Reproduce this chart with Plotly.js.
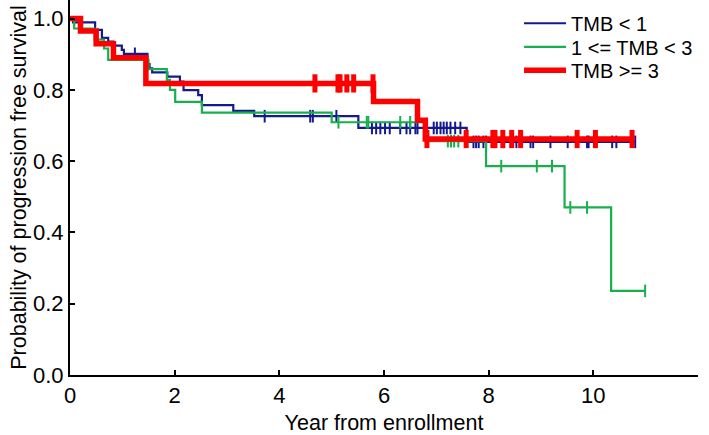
<!DOCTYPE html>
<html>
<head>
<meta charset="utf-8">
<script src="https://cdn.plot.ly/plotly-3.0.1.min.js"></script>
<style>html,body{margin:0;padding:0;background:#fff}#chart{width:709px;height:435px}</style>
</head>
<body>
<div id="chart"></div>
<script>
// ---- data ----
const seriesNames = ["TMB < 1", "1 <= TMB < 3", "TMB >= 3"];

const blueTimes = [0, 0.06, 0.48, 0.61, 0.73, 0.83, 0.99, 1.03, 1.48, 1.52, 1.57, 1.86, 2.10, 2.17, 2.45, 2.52, 3.12, 3.52, 5.51, 7.58, 10.80];
const blueSurv  = [1.0, 0.989, 0.968, 0.946, 0.935, 0.924, 0.912, 0.901, 0.872, 0.860, 0.849, 0.837, 0.823, 0.799, 0.785, 0.757, 0.741, 0.726, 0.693, 0.654, 0.654];
const blueCensor = [1.24, 3.72, 4.59, 4.64, 5.09, 5.77, 5.85, 5.93, 6.02, 6.11, 6.31, 6.43, 6.50, 6.60, 6.64, 6.95, 7.01, 7.08, 7.14, 7.20, 7.27, 7.36, 7.46, 7.71, 7.76, 7.81, 7.90, 7.95, 8.29, 8.53, 8.80, 8.85, 9.18, 9.51, 9.88, 9.91, 10.36, 10.44, 10.80];

const greenTimes = [0, 0.08, 0.47, 0.65, 0.73, 1.50, 1.85, 1.91, 2.01, 2.52, 5.00, 6.80, 7.95, 9.45, 10.34, 10.99];
const greenSurv  = [1.0, 0.972, 0.941, 0.916, 0.884, 0.858, 0.828, 0.800, 0.766, 0.736, 0.709, 0.656, 0.586, 0.470, 0.236, 0.236];
const greenCensor = [5.13, 5.67, 5.70, 6.31, 6.50, 7.22, 7.28, 7.34, 7.42, 8.24, 8.92, 9.21, 9.56, 9.88, 10.99];

const redTimes = [0, 0.20, 0.50, 0.83, 1.45, 5.80, 6.64, 6.79, 10.74];
const redSurv  = [1.0, 0.965, 0.929, 0.890, 0.818, 0.767, 0.715, 0.662, 0.662];
const redCensor = [4.68, 5.12, 5.16, 5.29, 5.42, 5.79, 6.82, 7.57, 8.08, 8.12, 8.27, 8.44, 8.61, 9.69, 10.04, 10.74];

const xTickVals = [0, 2, 4, 6, 8, 10, 12];
const yTickVals = [0, 0.2, 0.4, 0.6, 0.8, 1.0];

// ---- helpers ----
function survAt(times, surv, t) {
  let v = surv[0];
  for (let i = 0; i < times.length; i++) { if (times[i] <= t) v = surv[i]; }
  return v;
}
const FONT = "Arial, 'Liberation Sans', sans-serif";
const colors = ["#141a8c", "#18b04c", "#ff0000"];
const widths = [2.2, 2.2, 5.5];
const legendIds = ["legend", "legend2", "legend3"];
const groups = [
  [blueTimes, blueSurv, blueCensor],
  [greenTimes, greenSurv, greenCensor],
  [redTimes, redSurv, redCensor]
];

const lineTraces = groups.map((g, i) => ({
  x: g[0], y: g[1], type: "scatter", mode: "lines",
  line: {shape: "hv", color: colors[i], width: widths[i]},
  name: seriesNames[i], legend: legendIds[i], showlegend: true, hoverinfo: "skip"
}));
const censorTraces = groups.map((g, i) => ({
  x: g[2], y: g[2].map(t => survAt(g[0], g[1], t)), type: "scatter", mode: "markers",
  marker: {symbol: "line-ns-open", size: i === 2 ? 13 : 9, color: colors[i],
           line: {color: colors[i], width: i === 2 ? 5 : 2}},
  showlegend: false, hoverinfo: "skip"
}));
const data = [lineTraces[0], censorTraces[0], lineTraces[1], censorTraces[1], lineTraces[2], censorTraces[2]];

const legFont = {family: FONT, size: 20, color: "#000"};
function leg(y) {
  return {x: 0.715, y: y, xanchor: "left", yanchor: "top", bgcolor: "rgba(0,0,0,0)",
          font: legFont, itemwidth: 42, borderwidth: 0};
}

const layout = {
  width: 709, height: 435,
  margin: {l: 70, r: 11, t: 0, b: 60, pad: 0},
  paper_bgcolor: "#fff", plot_bgcolor: "#fff",
  font: {family: FONT, size: 22, color: "#000"},
  showlegend: true,
  legend: leg(0.99),
  legend2: leg(0.927),
  legend3: leg(0.865),
  xaxis: {
    range: [0, 12], tickvals: xTickVals, ticktext: xTickVals.map(String),
    showline: true, linecolor: "#000", linewidth: 2, ticks: "inside", ticklen: 5, tickwidth: 2, tickcolor: "#000",
    showgrid: false, zeroline: false, tickfont: {family: FONT, size: 22, color: "#000"},
    title: {text: "Year from enrollment", font: {family: FONT, size: 21.5, color: "#000"}, standoff: 20}
  },
  yaxis: {
    range: [0, 1.052], tickvals: yTickVals, ticktext: yTickVals.map(v => v.toFixed(1)),
    showline: true, linecolor: "#000", linewidth: 2, ticks: "inside", ticklen: 5, tickwidth: 2, tickcolor: "#000",
    showgrid: false, zeroline: false, tickfont: {family: FONT, size: 22, color: "#000"},
    title: {text: "Probability of progression free survival", font: {family: FONT, size: 21.5, color: "#000"}, standoff: 0}
  }
};
Plotly.newPlot("chart", data, layout, {displayModeBar: false, staticPlot: true});
</script>
</body>
</html>
